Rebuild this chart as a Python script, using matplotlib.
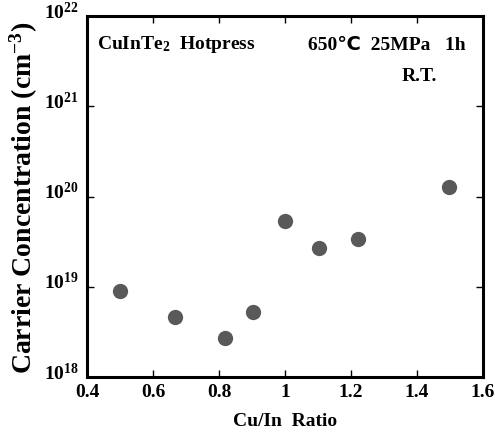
import numpy as np
import matplotlib.pyplot as plt
from matplotlib.transforms import ScaledTranslation

plt.rcParams['font.family'] = ['Liberation Serif', 'DejaVu Sans']
plt.rcParams['font.weight'] = 'bold'
plt.rcParams['mathtext.fontset'] = 'custom'
plt.rcParams['mathtext.rm'] = 'Liberation Serif:bold'
plt.rcParams['mathtext.it'] = 'Liberation Serif:bold'
plt.rcParams['mathtext.bf'] = 'Liberation Serif:bold'

# Cu/In ratio vs carrier concentration (cm^-3)
ratio = [0.50, 0.668, 0.818, 0.904, 1.00, 1.103, 1.22, 1.497]
conc = [8.9e18, 4.6e18, 2.7e18, 5.2e18, 5.3e19, 2.7e19, 3.4e19, 1.28e20]
xticks = [0.4, 0.6, 0.8, 1.0, 1.2, 1.4, 1.6]
xlabels = ['0.4', '0.6', '0.8', '1', '1.2', '1.4', '1.6']

fig = plt.figure(figsize=(4.95, 4.35), dpi=100)
ax = fig.add_axes([87/495, 1-378/435, (483-87)/495, (378-17)/435])

ax.scatter(ratio, conc, s=11**2, color='#595959', zorder=3, linewidths=0)

ax.set_yscale('log')
ax.set_xlim(0.4, 1.6)
ax.set_ylim(1e18, 1e22)
ax.set_xticks(xticks)
ax.set_xticklabels(xlabels)
ax.yaxis.set_minor_locator(plt.NullLocator())
ax.tick_params(direction='in', top=True, right=True, length=5, width=1,
               labelsize=14, pad=4)
for s in ax.spines.values():
    s.set_linewidth(2.2)

# y tick labels sit a little above their ticks
shift = ScaledTranslation(-2/72, 5/72, fig.dpi_scale_trans)
for lab in ax.get_yticklabels():
    lab.set_transform(lab.get_transform() + shift)

ax.set_xlabel('Cu/In  Ratio', fontsize=14, fontweight='bold', labelpad=9)
ax.set_ylabel('Carrier Concentration (cm$^{-3}$)', fontsize=20,
              fontweight='bold')
ax.yaxis.set_label_coords(-0.118, 0.5)

ax.text(0.025, 0.925, 'CuInTe$_2$  Hotpress', transform=ax.transAxes,
        fontsize=14, fontweight='bold', va='center')
ax.text(0.955, 0.92, '650\u2103  25MPa   1h', transform=ax.transAxes,
        fontsize=14, fontweight='bold', va='center', ha='right')
ax.text(0.885, 0.835, 'R.T.', transform=ax.transAxes,
        fontsize=14, fontweight='bold', va='center', ha='right')

fig.savefig('out.png', dpi=100)
